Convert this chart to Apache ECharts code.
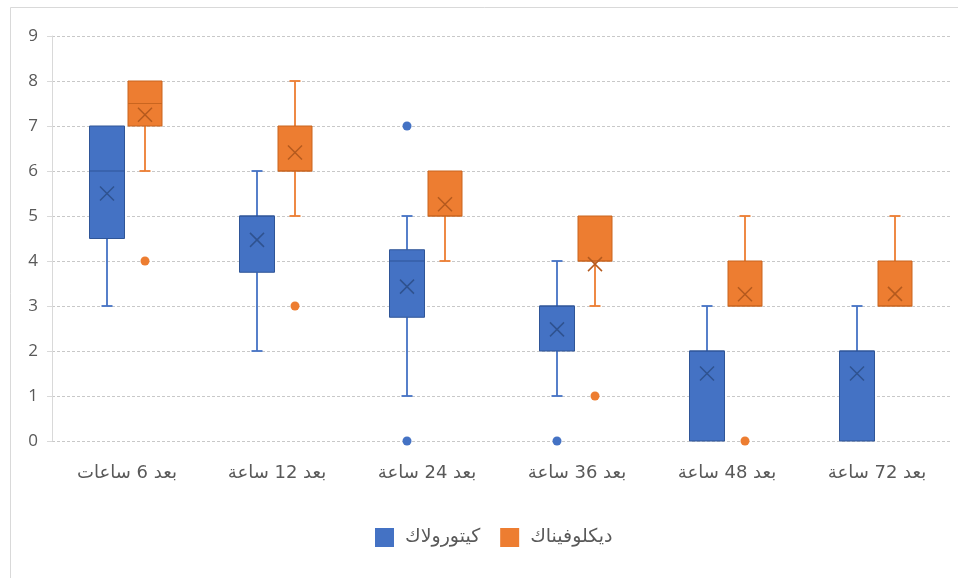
<!DOCTYPE html>
<html>
<head>
<meta charset="utf-8">
<script src="https://cdn.jsdelivr.net/npm/echarts@6/dist/echarts.min.js"></script>
<style>
html,body{margin:0;padding:0;background:#fff;}
#chart{width:958px;height:578px;}
</style>
</head>
<body>
<div id="chart"></div>
<script>
// ---- data ----
const categories = ['بعد 6 ساعات', 'بعد 12 ساعة', 'بعد 24 ساعة', 'بعد 36 ساعة', 'بعد 48 ساعة', 'بعد 72 ساعة'];
const seriesNames = ['كيتورولاك', 'ديكلوفيناك'];
const yTicks = [0, 1, 2, 3, 4, 5, 6, 7, 8, 9];

// Ketorolac (blue)
const ketMin    = [3, 2, 1, 1, 0, 0];
const ketQ1     = [4.5, 3.75, 2.75, 2, 0, 0];
const ketMedian = [6, 5, 4, 3, 2, 2];
const ketQ3     = [7, 5, 4.25, 3, 2, 2];
const ketMax    = [7, 6, 5, 4, 3, 3];
const ketMean   = [5.5, 4.47, 3.43, 2.48, 1.5, 1.5];
const ketOutliers = [[2, 7], [2, 0], [3, 0]];

// Diclofenac (orange)
const dicMin    = [6, 5, 4, 3, 3, 3];
const dicQ1     = [7, 6, 5, 4, 3, 3];
const dicMedian = [7.5, 6, 5, 4, 3, 3];
const dicQ3     = [8, 7, 6, 5, 4, 4];
const dicMax    = [8, 8, 6, 5, 5, 5];
const dicMean   = [7.25, 6.41, 5.26, 3.93, 3.26, 3.27];
const dicOutliers = [[0, 4], [1, 3], [3, 1], [4, 0]];

// ---- build ----
function boxData(mn, q1, md, q3, mx, mean) {
  return categories.map((c, i) => [i, mn[i], q1[i], md[i], q3[i], mx[i], mean[i]]);
}

const FONT = "'Open Sans', 'DejaVu Sans', sans-serif";
const AR_FONT = "'DejaVu Sans', sans-serif";
const TEXT = '#595959';

function boxRenderer(offset, width, fill, stroke, markColor, lineColor) {
  return function (params, api) {
    const i = api.value(0);
    const cx = api.coord([i, 0])[0] + offset;
    const Y = v => api.coord([i, v])[1];
    const mn = Y(api.value(1)), q1 = Y(api.value(2)), md = Y(api.value(3)),
          q3 = Y(api.value(4)), mx = Y(api.value(5)), mean = Y(api.value(6));
    const half = width / 2, cap = 5.5, xs = 7;
    const ls = { stroke: lineColor, lineWidth: 1.8 };
    const children = [];
    if (mn - q1 > 0.5) {
      children.push({ type: 'line', shape: { x1: cx, y1: q1, x2: cx, y2: mn }, style: ls });
      children.push({ type: 'line', shape: { x1: cx - cap, y1: mn, x2: cx + cap, y2: mn }, style: ls });
    }
    if (q3 - mx > 0.5) {
      children.push({ type: 'line', shape: { x1: cx, y1: q3, x2: cx, y2: mx }, style: ls });
      children.push({ type: 'line', shape: { x1: cx - cap, y1: mx, x2: cx + cap, y2: mx }, style: ls });
    }
    children.push({ type: 'rect', shape: { x: cx - half, y: q3, width: width, height: q1 - q3 },
      style: { fill: fill, stroke: stroke, lineWidth: 1 } });
    children.push({ type: 'line', shape: { x1: cx - half, y1: md, x2: cx + half, y2: md },
      style: { stroke: stroke, lineWidth: 1.2 } });
    children.push({ type: 'line', shape: { x1: cx - xs, y1: mean - xs, x2: cx + xs, y2: mean + xs },
      style: { stroke: markColor, lineWidth: 1.5 } });
    children.push({ type: 'line', shape: { x1: cx - xs, y1: mean + xs, x2: cx + xs, y2: mean - xs },
      style: { stroke: markColor, lineWidth: 1.5 } });
    return { type: 'group', children: children };
  };
}

function outlierRenderer(offset, color) {
  return function (params, api) {
    const p = api.coord([api.value(0), api.value(1)]);
    return { type: 'circle', shape: { cx: p[0] + offset, cy: p[1], r: 4.5 }, style: { fill: color } };
  };
}

const BLUE = '#4472C4', ORANGE = '#ED7D31';
const OFF_B = -20, OFF_O = 18, BW = 35;

const option = {
  animation: false,
  backgroundColor: '#ffffff',
  textStyle: { fontFamily: FONT },
  grid: { left: 52, right: 6, top: 36, bottom: 137 },
  graphic: [{
    type: 'rect', shape: { x: 10.5, y: 7.5, width: 980, height: 600 },
    style: { fill: 'none', stroke: '#d9d9d9', lineWidth: 1 }, silent: true, z: -1
  }],
  legend: {
    data: seriesNames,
    top: 523, left: 370,
    icon: 'rect', itemWidth: 19, itemHeight: 19, itemGap: 20,
    textStyle: { color: TEXT, fontSize: 19, fontFamily: AR_FONT, padding: [0, 0, 0, 6] }
  },
  xAxis: {
    type: 'category', data: categories,
    axisLine: { show: false }, axisTick: { show: false },
    axisLabel: { color: TEXT, fontSize: 18, fontFamily: AR_FONT, margin: 23 },
    splitLine: { show: false }
  },
  yAxis: {
    type: 'value', min: yTicks[0], max: yTicks[yTicks.length - 1], interval: 1,
    axisLine: { show: true, lineStyle: { color: '#d9d9d9' } },
    axisTick: { show: true, length: 5, lineStyle: { color: '#d9d9d9' } },
    axisLabel: { color: TEXT, fontSize: 17, fontFamily: FONT, margin: 14 },
    splitLine: { show: true, lineStyle: { color: '#c8c8c8', type: [3, 2], width: 1 } }
  },
  series: [
    {
      name: seriesNames[0], type: 'custom', itemStyle: { color: BLUE },
      renderItem: boxRenderer(OFF_B, BW, BLUE, '#2F5597', '#2F528F', BLUE),
      encode: { x: 0, y: [1, 2, 3, 4, 5, 6] },
      data: boxData(ketMin, ketQ1, ketMedian, ketQ3, ketMax, ketMean), z: 3
    },
    {
      name: seriesNames[1], type: 'custom', itemStyle: { color: ORANGE },
      renderItem: boxRenderer(OFF_O, BW - 1, ORANGE, '#C9651F', '#B45A1E', ORANGE),
      encode: { x: 0, y: [1, 2, 3, 4, 5, 6] },
      data: boxData(dicMin, dicQ1, dicMedian, dicQ3, dicMax, dicMean), z: 3
    },
    {
      name: seriesNames[0], type: 'custom', itemStyle: { color: BLUE },
      renderItem: outlierRenderer(OFF_B, BLUE),
      encode: { x: 0, y: 1 }, data: ketOutliers, z: 4
    },
    {
      name: seriesNames[1], type: 'custom', itemStyle: { color: ORANGE },
      renderItem: outlierRenderer(OFF_O, ORANGE),
      encode: { x: 0, y: 1 }, data: dicOutliers, z: 4
    }
  ]
};

const chart = echarts.init(document.getElementById('chart'), null, { renderer: 'canvas' });
chart.setOption(option);
</script>
</body>
</html>
